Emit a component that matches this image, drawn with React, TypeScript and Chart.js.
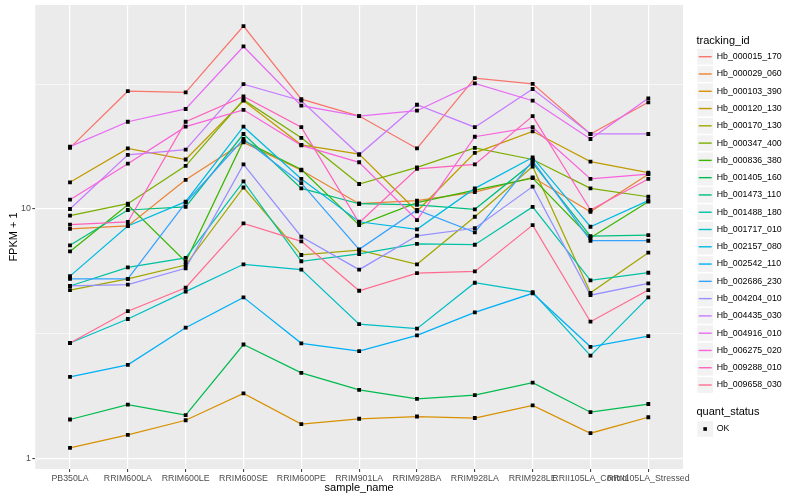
import React, { useEffect, useRef } from "react";
import { Chart, registerables } from "chart.js";

Chart.register(...registerables);

const FONT = '"Liberation Sans", Arial, Helvetica, sans-serif';

const CATEGORIES = [
  "PB350LA",
  "RRIM600LA",
  "RRIM600LE",
  "RRIM600SE",
  "RRIM600PE",
  "RRIM901LA",
  "RRIM928BA",
  "RRIM928LA",
  "RRIM928LE",
  "RRII105LA_Control",
  "RRII105LA_Stressed",
];

const Hb_000015_170 = [17.6, 29.7, 29.4, 54.2, 27.6, 23.6, 17.5, 33.5, 31.8, 20.0, 26.8];
const Hb_000029_060 = [8.33, 8.55, 13.1, 18.5, 14.3, 10.5, 10.8, 11.7, 13.4, 9.75, 13.8];
const Hb_000103_390 = [1.1, 1.24, 1.42, 1.82, 1.37, 1.44, 1.47, 1.45, 1.63, 1.26, 1.46];
const Hb_000120_130 = [12.8, 17.5, 15.8, 27.2, 18.1, 16.6, 9.79, 16.8, 20.5, 15.5, 14.0];
const Hb_000170_130 = [4.73, 5.24, 5.96, 12.2, 6.54, 6.84, 6.0, 9.31, 14.8, 4.61, 6.68];
const Hb_000347_400 = [9.4, 10.5, 14.9, 27.4, 19.3, 12.6, 14.7, 17.6, 15.8, 12.1, 11.2];
const Hb_000836_380 = [6.76, 10.4, 6.14, 18.8, 14.4, 8.62, 10.6, 11.9, 13.3, 7.67, 10.7];
const Hb_001405_160 = [1.43, 1.64, 1.49, 2.86, 2.2, 1.88, 1.73, 1.79, 2.01, 1.53, 1.65];
const Hb_001473_110 = [7.15, 9.91, 10.2, 20.0, 12.1, 10.5, 10.4, 9.97, 15.3, 7.79, 7.86];
const Hb_001488_180 = [4.91, 5.83, 6.37, 12.9, 6.17, 6.6, 7.25, 7.19, 10.2, 5.17, 5.55];
const Hb_001717_010 = [2.9, 3.62, 4.66, 6.0, 5.71, 3.45, 3.31, 5.06, 4.64, 2.58, 4.42];
const Hb_002157_080 = [5.38, 8.55, 10.7, 21.4, 13.2, 8.89, 8.29, 12.1, 16.1, 8.49, 10.8];
const Hb_002542_110 = [2.12, 2.37, 3.34, 4.42, 2.89, 2.69, 3.11, 3.85, 4.59, 2.8, 3.09];
const Hb_002686_230 = [5.25, 5.24, 10.6, 19.1, 12.7, 6.89, 9.91, 8.06, 15.6, 7.46, 7.46];
const Hb_004204_010 = [4.91, 4.97, 5.78, 15.1, 7.74, 5.71, 7.81, 8.37, 12.3, 4.51, 5.03];
const Hb_004435_030 = [10.0, 16.5, 17.3, 31.7, 27.2, 16.5, 26.2, 21.3, 30.3, 20.0, 20.0];
const Hb_004916_010 = [17.8, 22.4, 25.2, 44.9, 26.0, 23.6, 24.8, 31.9, 27.2, 19.1, 27.8];
const Hb_006275_020 = [10.9, 15.2, 21.4, 25.0, 18.0, 15.4, 9.03, 19.5, 21.3, 13.2, 13.8];
const Hb_009288_010 = [8.65, 8.87, 22.4, 28.3, 21.3, 8.81, 14.5, 15.1, 23.6, 9.91, 13.2];
const Hb_009658_030 = [2.9, 3.89, 4.83, 8.76, 7.42, 4.7, 5.53, 5.62, 8.62, 3.53, 4.73];

const SERIES_NAMES = [
  "Hb_000015_170",
  "Hb_000029_060",
  "Hb_000103_390",
  "Hb_000120_130",
  "Hb_000170_130",
  "Hb_000347_400",
  "Hb_000836_380",
  "Hb_001405_160",
  "Hb_001473_110",
  "Hb_001488_180",
  "Hb_001717_010",
  "Hb_002157_080",
  "Hb_002542_110",
  "Hb_002686_230",
  "Hb_004204_010",
  "Hb_004435_030",
  "Hb_004916_010",
  "Hb_006275_020",
  "Hb_009288_010",
  "Hb_009658_030",
];

const SERIES_VALUES = [
  Hb_000015_170,
  Hb_000029_060,
  Hb_000103_390,
  Hb_000120_130,
  Hb_000170_130,
  Hb_000347_400,
  Hb_000836_380,
  Hb_001405_160,
  Hb_001473_110,
  Hb_001488_180,
  Hb_001717_010,
  Hb_002157_080,
  Hb_002542_110,
  Hb_002686_230,
  Hb_004204_010,
  Hb_004435_030,
  Hb_004916_010,
  Hb_006275_020,
  Hb_009288_010,
  Hb_009658_030,
];

const COLORS = [
  "#F8766D", "#EA8331", "#D89000", "#C09B00", "#A3A500",
  "#7CAE00", "#39B600", "#00BB4E", "#00BF7D", "#00C1A3",
  "#00BFC4", "#00BAE0", "#00B0F6", "#35A2FF", "#9590FF",
  "#C77CFF", "#E76BF3", "#FA62DB", "#FF62BC", "#FF6C90",
];

const Y_MAJOR_TICKS = [1, 10];
const Y_MINOR_TICKS = [Math.pow(10, 0.5), Math.pow(10, 1.5)];
const QUANT_STATUS = ["OK"];

export default function App() {
  const canvasRef = useRef<HTMLCanvasElement | null>(null);

  useEffect(() => {
    const canvas = canvasRef.current;
    if (!canvas) return;

    const all = SERIES_VALUES.flat();
    const lmin = Math.log10(Math.min(...all));
    const lmax = Math.log10(Math.max(...all));
    const ex = (lmax - lmin) * 0.05;
    const yMin = Math.pow(10, lmin - ex);
    const yMax = Math.pow(10, lmax + ex);

    const lineSets = SERIES_NAMES.map((name, i) => ({
      label: name,
      data: SERIES_VALUES[i].map((v, j) => ({ x: j, y: v })),
      borderColor: COLORS[i],
      backgroundColor: COLORS[i],
      borderWidth: 1.25,
      pointRadius: 0,
      tension: 0,
      fill: false,
      order: SERIES_NAMES.length - i + 1,
    }));

    const pointSet = {
      label: "points",
      data: SERIES_VALUES.flatMap((arr) => arr.map((v, j) => ({ x: j, y: v }))),
      showLine: false,
      pointStyle: "rect",
      pointRadius: 2.7,
      pointBorderWidth: 0,
      pointBackgroundColor: "#000000",
      borderColor: "#000000",
      backgroundColor: "#000000",
      order: 0,
    };

    const bgPlugin = {
      id: "panelBg",
      beforeDraw(chart: any) {
        const { ctx, chartArea: a } = chart;
        ctx.save();
        ctx.fillStyle = "#FFFFFF";
        ctx.fillRect(0, 0, chart.width, chart.height);
        ctx.fillStyle = "#EBEBEB";
        ctx.fillRect(a.left, a.top, a.right - a.left, a.bottom - a.top);
        ctx.restore();
      },
    };

    const decoPlugin = {
      id: "ggDeco",
      afterDraw(chart: any) {
        const { ctx, chartArea: a } = chart;
        ctx.save();
        ctx.fillStyle = "#000000";
        ctx.textBaseline = "middle";
        ctx.font = `11px ${FONT}`;
        ctx.textAlign = "center";
        ctx.fillText("sample_name", (a.left + a.right) / 2, 487.5);
        ctx.save();
        ctx.translate(13.5, (a.top + a.bottom) / 2);
        ctx.rotate(-Math.PI / 2);
        ctx.fillText("FPKM + 1", 0, 0);
        ctx.restore();

        const lx = 696.5;
        const step = 17.28;
        ctx.textAlign = "left";
        ctx.font = `11px ${FONT}`;
        ctx.fillText("tracking_id", lx, 40.5);
        SERIES_NAMES.forEach((name, i) => {
          const cy = 56.7 + i * step;
          ctx.fillStyle = "#F2F2F2";
          ctx.fillRect(lx + 0.8, cy - step / 2 + 0.8, step - 1.6, step - 1.6);
          ctx.strokeStyle = COLORS[i];
          ctx.lineWidth = 1.4;
          ctx.beginPath();
          ctx.moveTo(lx + 2.2, cy);
          ctx.lineTo(lx + 15.2, cy);
          ctx.stroke();
          ctx.fillStyle = "#000000";
          ctx.font = `8.8px ${FONT}`;
          ctx.fillText(name, lx + 20.2, cy);
        });

        ctx.font = `11px ${FONT}`;
        ctx.fillText("quant_status", lx, 412.3);
        QUANT_STATUS.forEach((s, i) => {
          const cy = 429 + i * step;
          ctx.fillStyle = "#F2F2F2";
          ctx.fillRect(lx + 0.8, cy - step / 2 + 0.8, step - 1.6, step - 1.6);
          ctx.fillStyle = "#000000";
          const cx = lx + step / 2;
          ctx.fillRect(cx - 1.8, cy - 1.8, 3.6, 3.6);
          ctx.font = `8.8px ${FONT}`;
          ctx.fillText(s, lx + 20.2, cy);
        });
        ctx.restore();
      },
    };

    const chart = new Chart(canvas, {
      type: "line",
      data: { datasets: [pointSet as any, ...lineSets] },
      options: {
        responsive: false,
        animation: false,
        events: [],
        layout: { padding: { left: 0, right: 117, top: 5, bottom: 0 } },
        plugins: {
          legend: { display: false },
          tooltip: { enabled: false },
          title: { display: false },
        },
        scales: {
          x: {
            type: "linear",
            min: -0.6,
            max: CATEGORIES.length - 1 + 0.6,
            bounds: "data",
            afterBuildTicks: (scale: any) => {
              scale.ticks = CATEGORIES.map((_, i) => ({ value: i }));
            },
            afterFit: (scale: any) => {
              scale.height = 31;
              scale.paddingLeft = 0;
              scale.paddingRight = 0;
            },
            border: { display: false },
            grid: {
              color: "#FFFFFF",
              lineWidth: 1.2,
              drawTicks: true,
              tickLength: 3,
              tickColor: "#333333",
              tickWidth: 1,
            },
            ticks: {
              autoSkip: false,
              maxRotation: 0,
              minRotation: 0,
              padding: 1.5,
              color: "#4D4D4D",
              font: { family: FONT, size: 8.8 },
              callback: (v: any) => CATEGORIES[v as number] ?? "",
            },
          },
          y: {
            type: "logarithmic",
            min: yMin,
            max: yMax,
            bounds: "data",
            afterBuildTicks: (scale: any) => {
              scale.ticks = [...Y_MAJOR_TICKS, ...Y_MINOR_TICKS]
                .sort((p, q) => p - q)
                .map((v) => ({ value: v }));
            },
            afterFit: (scale: any) => {
              scale.width = 35.3;
              scale.paddingTop = 0;
              scale.paddingBottom = 0;
            },
            border: { display: false },
            grid: {
              color: "#FFFFFF",
              lineWidth: (c: any) => (Y_MAJOR_TICKS.includes(c.tick?.value) ? 1.2 : 0.6),
              drawTicks: true,
              tickLength: 3,
              tickColor: (c: any) =>
                Y_MAJOR_TICKS.includes(c.tick?.value) ? "#333333" : "rgba(0,0,0,0)",
              tickWidth: 1,
            },
            ticks: {
              padding: 1.5,
              color: "#4D4D4D",
              font: { family: FONT, size: 8.8 },
              callback: (v: any) => (Y_MAJOR_TICKS.includes(v) ? String(v) : ""),
            },
          },
        },
      },
      plugins: [bgPlugin, decoPlugin],
    });

    return () => chart.destroy();
  }, []);

  return (
    <div style={{ position: "absolute", left: 0, top: 0, width: 800, height: 500 }}>
      <canvas ref={canvasRef} width={800} height={500} style={{ display: "block" }} />
    </div>
  );
}
